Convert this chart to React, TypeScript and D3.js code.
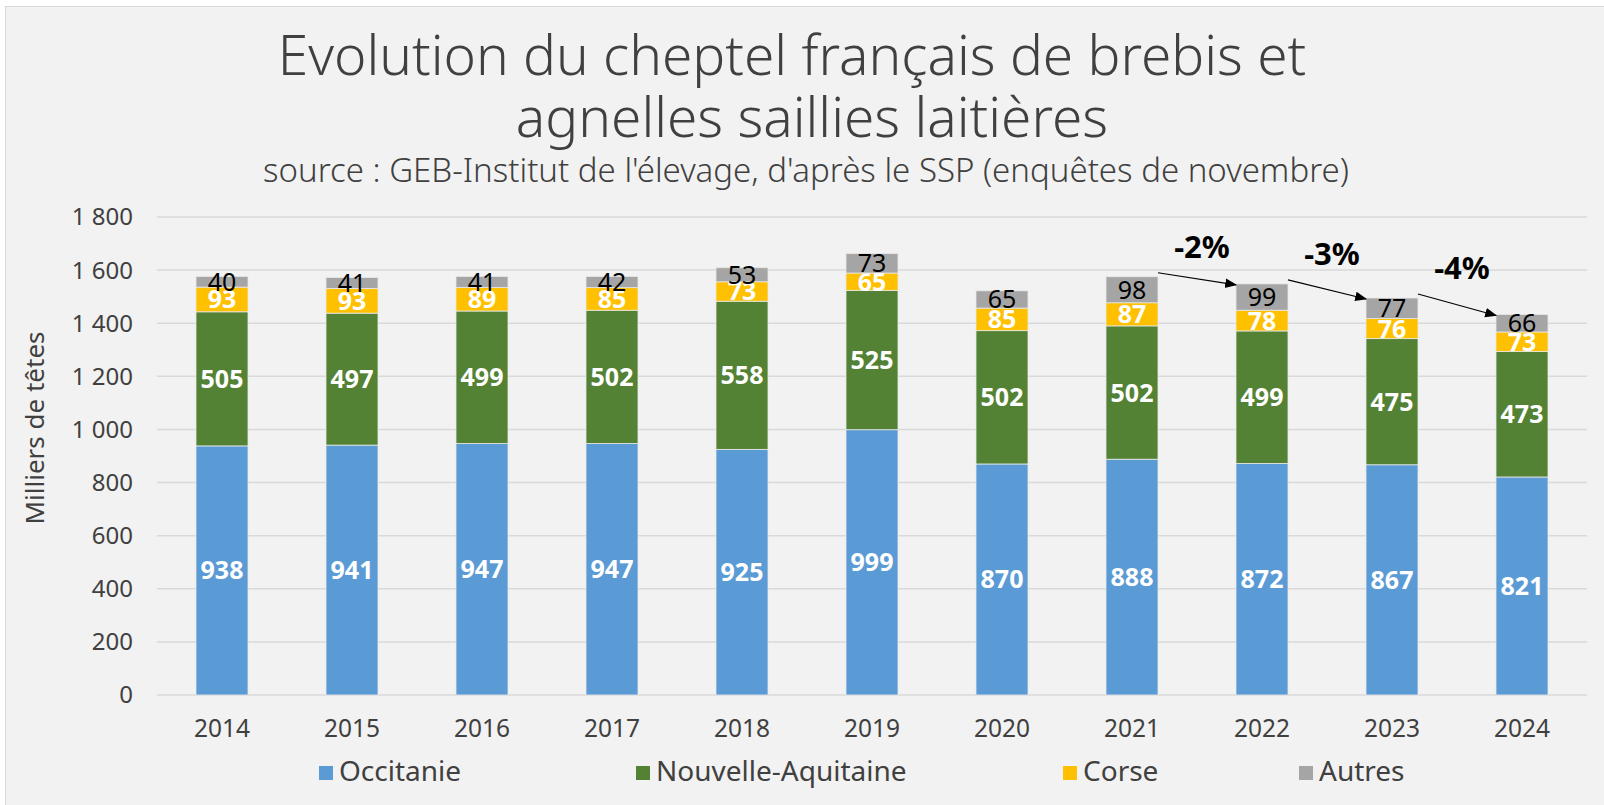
import React from "react";
import * as d3 from "d3";

const years = ["2014", "2015", "2016", "2017", "2018", "2019", "2020", "2021", "2022", "2023", "2024"];
const occitanie = [938, 941, 947, 947, 925, 999, 870, 888, 872, 867, 821];
const nouvelleAquitaine = [505, 497, 499, 502, 558, 525, 502, 502, 499, 475, 473];
const corse = [93, 93, 89, 85, 73, 65, 85, 87, 78, 76, 73];
const autres = [40, 41, 41, 42, 53, 73, 65, 98, 99, 77, 66];
const seriesNames = ["Occitanie", "Nouvelle-Aquitaine", "Corse", "Autres"];
const seriesColors = ["#5b9bd5", "#548235", "#ffc000", "#a5a5a5"];
const yTicks = [0, 200, 400, 600, 800, 1000, 1200, 1400, 1600, 1800];
// evolution arrows: from year index to next
const changeFrom = [7, 8, 9];
const changeLabels = ["-2%", "-3%", "-4%"];

const W = 1604;
const H = 805;
const FONT = "'Noto Sans', 'DejaVu Sans', sans-serif";

export default function App() {
  const margin = { left: 157, right: W - 1587, top: 217, bottom: H - 695 };

  const x = d3
    .scaleBand()
    .domain(years)
    .range([margin.left, W - margin.right])
    .paddingInner(0.6)
    .paddingOuter(0.3);

  const y = d3.scaleLinear().domain([0, 1800]).range([H - margin.bottom, margin.top]);

  const table = years.map((yr, i) => ({
    year: yr,
    Occitanie: occitanie[i],
    "Nouvelle-Aquitaine": nouvelleAquitaine[i],
    Corse: corse[i],
    Autres: autres[i],
  }));
  const stacked = d3.stack<any>().keys(seriesNames)(table);
  const totals = years.map((_, i) => occitanie[i] + nouvelleAquitaine[i] + corse[i] + autres[i]);

  const fmt = (v: number) => d3.format(",")(v).replace(/,/g, " ");

  const legendX = [319, 636, 1063, 1299];

  return (
    <div style={{ position: "absolute", left: 0, top: 0 }}>
      <svg width={W} height={H} style={{ display: "block" }}>
        <defs>
          <marker id="arr" viewBox="0 0 10 10" refX="9" refY="5" markerWidth="10" markerHeight="10" orient="auto">
            <path d="M0,1 L10,5 L0,9 z" fill="#000" />
          </marker>
        </defs>
        <rect x={0} y={0} width={W} height={H} fill="#ffffff" />
        <rect x={5.5} y={6.5} width={W} height={H} fill="#f2f2f2" stroke="#d9d9d9" />

        {/* title */}
        <text x={792} y={75} textAnchor="middle" fontFamily={FONT} fontSize={55} fontWeight={300} fill="#404040">
          Evolution du cheptel français de brebis et
        </text>
        <text x={812} y={137} textAnchor="middle" fontFamily={FONT} fontSize={55} fontWeight={300} fill="#404040">
          agnelles saillies laitières
        </text>
        <text x={806} y={182} textAnchor="middle" fontFamily={FONT} fontSize={33} fontWeight={300} fill="#404040">
          source : GEB-Institut de l'élevage, d'après le SSP (enquêtes de novembre)
        </text>

        {/* grid + y ticks */}
        {yTicks.map((t) => (
          <g key={t}>
            <line x1={margin.left} x2={W - margin.right} y1={y(t)} y2={y(t)} stroke="#d9d9d9" strokeWidth={1.5} />
            <text x={133} y={y(t)} dy="0.35em" textAnchor="end" fontFamily={FONT} fontSize={24} fill="#404040">
              {fmt(t)}
            </text>
          </g>
        ))}

        <text
          transform={`translate(44,428) rotate(-90)`}
          textAnchor="middle"
          fontFamily={FONT}
          fontSize={26}
          fill="#404040"
        >
          Milliers de têtes
        </text>

        {/* bars */}
        {stacked.map((s, si) => (
          <g key={s.key}>
            {s.map((d, i) => (
              <g key={i}>
                <rect
                  x={x(years[i])}
                  y={y(d[1])}
                  width={x.bandwidth()}
                  height={y(d[0]) - y(d[1])}
                  fill={seriesColors[si]}
                  stroke="#e8e8e8"
                  strokeWidth={0.8}
                />
                <text
                  x={(x(years[i]) as number) + x.bandwidth() / 2}
                  y={(y(d[0]) + y(d[1])) / 2}
                  dy="0.36em"
                  textAnchor="middle"
                  fontFamily={FONT}
                  fontSize={25}
                  fontWeight={si === 3 ? "normal" : "bold"}
                  fill={si === 3 ? "#000" : "#fff"}
                >
                  {d[1] - d[0]}
                </text>
              </g>
            ))}
          </g>
        ))}

        {/* x labels */}
        {years.map((yr) => (
          <text
            key={yr}
            x={(x(yr) as number) + x.bandwidth() / 2}
            y={737}
            textAnchor="middle"
            fontFamily={FONT}
            fontSize={24.5}
            fill="#404040"
          >
            {yr}
          </text>
        ))}

        {/* evolution arrows */}
        {changeFrom.map((i, k) => {
          const x1 = (x(years[i]) as number) + x.bandwidth();
          const x2 = x(years[i + 1]) as number;
          const y1 = y(totals[i]) - 4;
          const y2 = y(totals[i + 1]) + 1;
          return (
            <g key={k}>
              <line x1={x1} y1={y1} x2={x2} y2={y2} stroke="#000" strokeWidth={1.2} markerEnd="url(#arr)" />
              <text
                x={(x1 + x2) / 2 + 5}
                y={y1 - 26}
                dy="0.35em"
                textAnchor="middle"
                fontFamily={FONT}
                fontSize={31}
                fontWeight="bold"
                fill="#000"
              >
                {changeLabels[k]}
              </text>
            </g>
          );
        })}

        {/* legend */}
        {seriesNames.map((n, i) => (
          <g key={n}>
            <rect x={legendX[i]} y={766} width={14} height={14} fill={seriesColors[i]} />
            <text x={legendX[i] + 20} y={781} fontFamily={FONT} fontSize={28} fill="#404040">
              {n}
            </text>
          </g>
        ))}
      </svg>
    </div>
  );
}
